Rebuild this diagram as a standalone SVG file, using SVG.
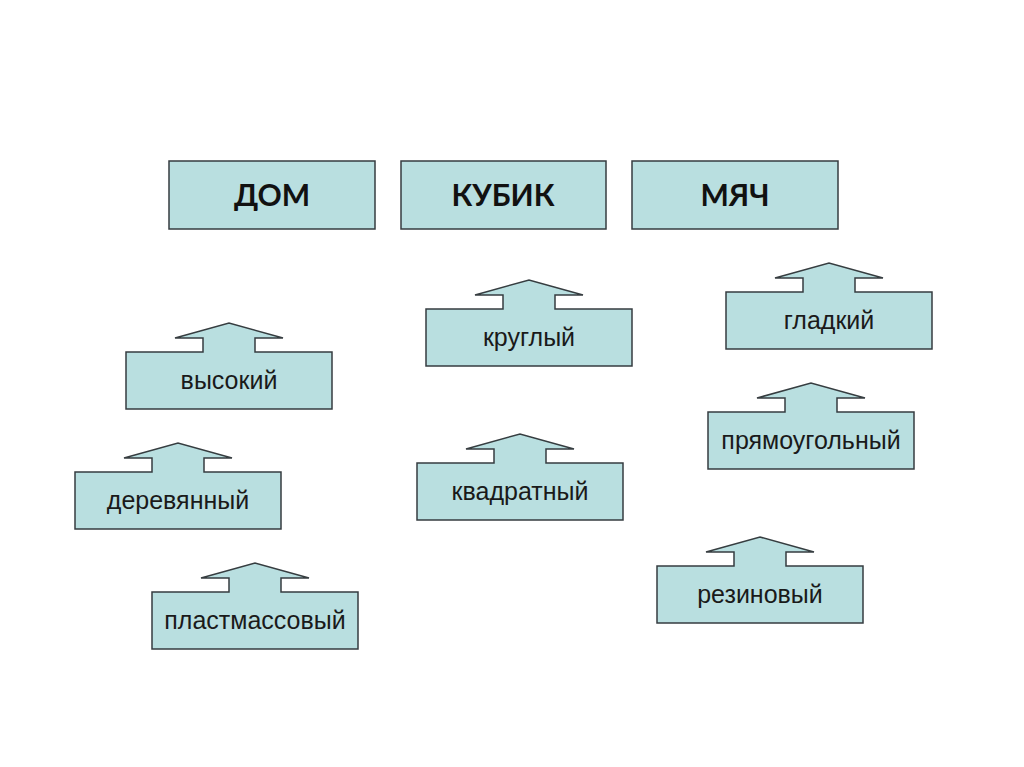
<svg xmlns="http://www.w3.org/2000/svg" xmlns:xlink="http://www.w3.org/1999/xlink" width="1024" height="767" viewBox="0 0 1024 767">
<style>
.box{fill:#b9dfe0;stroke:#363d40;stroke-width:1.5}
.title{font-family:Lato,"Open Sans","Liberation Sans",sans-serif;font-weight:bold;font-size:30px;fill:#111;text-anchor:middle}
.lbl{font-family:"Liberation Sans",Arial,sans-serif;font-size:25px;fill:#1a1a1a;text-anchor:middle}
</style>
<defs>
<path id="callout" d="M0,0 H77 V-14 H49 L103,-29 L157,-14 H129 V0 H206 V57 H0 Z"/>
</defs>
<rect width="1024" height="767" fill="#ffffff"/>
<g id="dom"><rect class="box" x="169" y="161" width="206" height="68"/><text class="title" x="272" y="206">ДОМ</text></g>
<g id="kubik"><rect class="box" x="401" y="161" width="205" height="68"/><text class="title" x="503" y="206">КУБИК</text></g>
<g id="myach"><rect class="box" x="632" y="161" width="206" height="68"/><text class="title" x="735" y="206">МЯЧ</text></g>
<g id="vysokiy"><use xlink:href="#callout" href="#callout" class="box" transform="translate(126,352)"/><text class="lbl" x="229" y="389">высокий</text></g>
<g id="derevyanniy"><use xlink:href="#callout" href="#callout" class="box" transform="translate(75,472)"/><text class="lbl" x="178" y="509">деревянный</text></g>
<g id="plastmassoviy"><use xlink:href="#callout" href="#callout" class="box" transform="translate(152,592)"/><text class="lbl" x="255" y="629">пластмассовый</text></g>
<g id="krugliy"><use xlink:href="#callout" href="#callout" class="box" transform="translate(426,309)"/><text class="lbl" x="529" y="346">круглый</text></g>
<g id="kvadratniy"><use xlink:href="#callout" href="#callout" class="box" transform="translate(417,463)"/><text class="lbl" x="520" y="500">квадратный</text></g>
<g id="gladkiy"><use xlink:href="#callout" href="#callout" class="box" transform="translate(726,292)"/><text class="lbl" x="829" y="329">гладкий</text></g>
<g id="pryamougolniy"><use xlink:href="#callout" href="#callout" class="box" transform="translate(708,412)"/><text class="lbl" x="811" y="449">прямоугольный</text></g>
<g id="rezinoviy"><use xlink:href="#callout" href="#callout" class="box" transform="translate(657,566)"/><text class="lbl" x="760" y="603">резиновый</text></g>
<g id="connectors"></g>
</svg>
